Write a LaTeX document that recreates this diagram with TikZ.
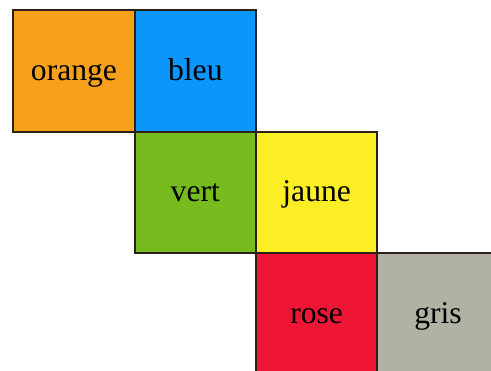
\documentclass[tikz,border=0pt]{standalone}
\usepackage{fontspec}
\setmainfont{Liberation Serif}
\usetikzlibrary{positioning}
\definecolor{faceorange}{RGB}{247,160,28}
\definecolor{facebleu}{RGB}{10,150,250}
\definecolor{facevert}{RGB}{118,188,30}
\definecolor{facejaune}{RGB}{252,238,36}
\definecolor{facerose}{RGB}{238,22,52}
\definecolor{facegris}{RGB}{178,178,164}
\definecolor{bord}{RGB}{45,32,24}
\begin{document}
\begin{tikzpicture}[x=0.03cm,y=-0.03cm]
\tikzset{
    face/.style={draw=bord,line width=0.06cm,minimum size=3.64cm,inner sep=0pt,outer sep=0pt,
        text height=19pt,text depth=3pt,font=\fontsize{27}{32}\selectfont}
}
\useasboundingbox (0,0) rectangle (491,371);
\node[face,fill=faceorange] (orange) at (74,71) {orange};
\node[face,fill=facebleu,right=0pt of orange] (bleu) {bleu\hspace{0.3em}};
\node[face,fill=facevert,below=0pt of bleu] (vert) {vert\hspace{0.3em}};
\node[face,fill=facejaune,right=0pt of vert] (jaune) {jaune};
\node[face,fill=facerose,below=0pt of jaune] (rose) {rose\hspace{0.3em}};
\node[face,fill=facegris,right=0pt of rose] (gris) {gris\hspace{0.3em}};
\end{tikzpicture}
\end{document}
